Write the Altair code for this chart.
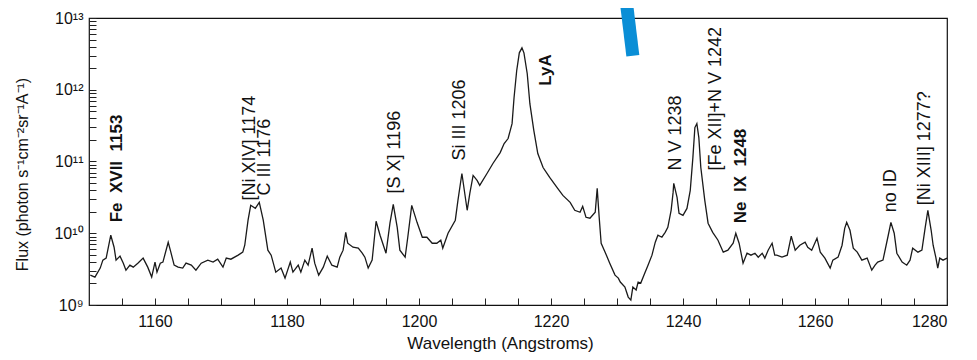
import altair as alt
import pandas as pd

# ---- spectrum (wavelength in Angstrom, flux in photon s^-1 cm^-2 sr^-1 A^-1) ----
seg_1150_1183 = [
    (1150.2, 2.61e9), (1150.9, 2.45e9), (1151.7, 3.27e9), (1152.1, 4.22e9), (1152.6, 4.50e9),
    (1153.3, 9.38e9), (1153.8, 6.39e9), (1154.1, 4.22e9), (1154.7, 4.80e9), (1155.2, 3.83e9),
    (1155.6, 3.06e9), (1156.2, 3.59e9), (1156.7, 3.37e9), (1157.4, 3.83e9), (1158.2, 4.50e9),
    (1158.9, 3.37e9), (1159.5, 2.45e9), (1160.0, 3.96e9), (1160.3, 2.87e9), (1160.8, 3.83e9),
    (1161.2, 3.96e9), (1162.0, 7.50e9), (1162.4, 5.45e9), (1162.9, 3.59e9), (1163.5, 3.37e9),
    (1164.2, 3.27e9), (1164.7, 3.83e9), (1165.5, 3.59e9), (1166.2, 3.06e9), (1167.0, 3.83e9),
    (1168.0, 4.22e9), (1168.8, 3.96e9), (1169.5, 4.35e9), (1170.3, 3.37e9), (1170.8, 4.50e9),
    (1171.5, 4.35e9), (1172.6, 4.95e9), (1173.3, 5.45e9), (1173.6, 6.81e9), (1174.1, 1.52e10),
    (1174.5, 2.45e10), (1175.2, 2.22e10), (1175.8, 2.70e10), (1176.4, 1.52e10), (1177.1, 5.81e9),
    (1177.6, 4.95e9), (1178.3, 2.87e9), (1179.1, 3.27e9), (1179.7, 2.37e9), (1180.5, 3.96e9),
    (1180.9, 2.87e9), (1181.7, 3.59e9), (1182.1, 2.87e9), (1182.7, 4.22e9),
]
seg_1183_1210 = [
    (1183.2, 3.59e9), (1183.8, 6.19e9), (1184.2, 3.83e9), (1184.8, 2.61e9), (1185.5, 3.37e9),
    (1186.1, 4.80e9), (1186.8, 3.59e9), (1187.6, 3.37e9), (1188.0, 4.64e9), (1188.5, 5.81e9),
    (1188.9, 1.03e10), (1189.2, 7.26e9), (1190.0, 6.39e9), (1190.8, 6.19e9), (1191.4, 5.27e9),
    (1191.8, 4.64e9), (1192.3, 3.27e9), (1192.9, 4.22e9), (1193.5, 1.47e10), (1194.1, 9.38e9),
    (1195.0, 5.27e9), (1195.6, 1.38e10), (1196.1, 2.53e10), (1196.7, 1.21e10), (1197.1, 5.81e9),
    (1197.9, 4.64e9), (1198.3, 8.80e9), (1198.9, 2.45e10), (1199.7, 1.42e10), (1200.5, 8.80e9),
    (1201.2, 8.80e9), (1202.0, 7.26e9), (1202.7, 7.26e9), (1203.3, 8.00e9), (1203.6, 6.19e9),
    (1204.4, 1.00e10), (1205.5, 1.52e10), (1205.9, 2.87e10), (1206.5, 6.81e10), (1207.3, 2.09e10),
    (1207.7, 3.59e10), (1208.2, 6.39e10), (1208.8, 5.45e10), (1209.2, 4.64e10),
]
seg_1210_1234 = [
    (1210.3, 6.81e10), (1211.2, 9.38e10), (1212.3, 1.33e11), (1212.9, 1.78e11), (1213.5, 2.09e11),
    (1214.1, 3.37e11), (1214.4, 7.74e11), (1214.8, 1.84e12), (1215.2, 3.27e12), (1215.6, 3.83e12),
    (1215.9, 3.27e12), (1216.4, 1.67e12), (1216.8, 6.39e11), (1217.4, 2.70e11), (1218.0, 1.29e11),
    (1218.8, 8.25e10), (1219.8, 6.00e10), (1220.9, 4.35e10), (1221.8, 3.37e10), (1222.9, 2.70e10),
    (1223.6, 2.09e10), (1224.4, 1.96e10), (1224.8, 2.37e10), (1225.3, 1.67e10), (1225.9, 1.62e10),
    (1226.7, 1.96e10), (1227.0, 4.22e10), (1227.3, 1.67e10), (1227.6, 7.26e9), (1228.2, 5.45e9),
    (1228.9, 3.83e9), (1229.7, 2.61e9), (1230.2, 2.37e9), (1230.5, 2.09e9), (1231.2, 1.78e9),
    (1231.7, 1.29e9), (1232.1, 1.17e9), (1232.4, 1.78e9), (1232.9, 1.62e9), (1233.2, 2.09e9),
    (1233.6, 2.02e9),
]
seg_1234_1253 = [
    (1234.2, 2.78e9), (1234.7, 3.59e9), (1235.3, 4.95e9), (1235.8, 7.50e9), (1236.2, 9.38e9),
    (1236.8, 8.80e9), (1237.3, 1.03e10), (1237.7, 1.21e10), (1238.2, 2.09e10), (1238.5, 3.71e10),
    (1238.6, 4.95e10), (1239.1, 3.16e10), (1239.4, 1.90e10), (1240.0, 1.78e10), (1240.6, 2.22e10),
    (1241.1, 3.96e10), (1241.5, 1.14e11), (1241.8, 2.97e11), (1242.1, 3.37e11), (1242.4, 2.15e11),
    (1242.7, 8.25e10), (1243.3, 2.87e10), (1243.8, 1.38e10), (1244.5, 1.03e10), (1245.3, 8.00e9),
    (1246.1, 5.45e9), (1246.8, 5.81e9), (1247.6, 7.26e9), (1248.0, 1.00e10), (1248.5, 7.26e9),
    (1249.1, 3.83e9), (1249.7, 5.27e9), (1250.3, 4.95e9), (1250.9, 5.27e9), (1251.4, 4.64e9),
    (1252.0, 5.27e9), (1252.4, 4.50e9), (1252.9, 5.81e9),
]
seg_1253_1280 = [
    (1253.5, 7.26e9), (1253.9, 4.95e9), (1254.2, 4.95e9), (1255.0, 4.64e9), (1255.8, 4.95e9),
    (1256.4, 9.09e9), (1257.0, 5.81e9), (1257.7, 6.81e9), (1258.5, 7.50e9), (1258.9, 6.39e9),
    (1259.5, 5.81e9), (1260.3, 8.53e9), (1260.8, 5.45e9), (1261.5, 4.50e9), (1262.3, 3.27e9),
    (1262.7, 4.22e9), (1263.5, 4.64e9), (1264.1, 6.81e9), (1264.5, 1.17e10), (1264.8, 1.42e10),
    (1265.3, 1.10e10), (1265.8, 6.19e9), (1266.4, 5.45e9), (1267.1, 4.22e9), (1267.9, 4.50e9),
    (1268.6, 3.06e9), (1269.1, 3.59e9), (1269.5, 3.96e9), (1270.3, 4.22e9), (1271.1, 9.38e9),
    (1271.5, 1.42e10), (1272.0, 1.00e10), (1272.4, 5.27e9), (1273.2, 3.96e9), (1273.9, 3.59e9),
    (1274.4, 4.22e9), (1274.8, 6.19e9), (1275.6, 5.45e9), (1276.2, 5.81e9), (1276.7, 1.21e10),
    (1277.1, 2.09e10), (1277.6, 1.10e10), (1277.9, 6.81e9), (1278.3, 4.64e9), (1278.6, 3.27e9),
    (1278.9, 4.50e9), (1279.4, 4.22e9), (1280.0, 4.50e9),
]

# ---- line identifications (text, wavelength anchor, flux anchor at text start) ----
label_text = ["[Ni XIV] 1174", "C III 1176", "[S X] 1196", "Si III 1206", "N V 1238",
              "[Fe XII]+N V 1242", "no ID", "[Ni XIII] 1277?"]
label_wl = [1174.4, 1176.7, 1196.4, 1206.2, 1238.9, 1245.0, 1271.5, 1276.7]
label_flux = [2.87e10, 3.37e10, 3.59e10, 1.03e11, 7.5e10, 7.5e10, 1.96e10, 2.45e10]

bold_text = ["Fe\u00a0 XVII\u00a0 1153", "LyA", "Ne\u00a0 IX\u00a0 1248"]
bold_wl = [1154.2, 1219.2, 1248.8]
bold_flux = [1.42e10, 1.14e12, 1.38e10]

# ---- axis ticks (labels only on the multiples of 20 A and on the decades) ----
x_tick_values = [1155, 1160, 1165, 1170, 1175, 1180, 1185, 1190, 1195, 1200, 1205, 1210, 1215,
                 1220, 1225, 1230, 1235, 1240, 1245, 1250, 1255, 1260, 1265, 1270, 1275, 1280]
y_tick_values = [k * 10.0 ** n for n in range(9, 13) for k in range(1, 10)] + [1e13]

# blue overlay stroke (from the scanned figure)
marker_wl = [1231.4, 1232.4]
marker_flux = [1.72e13, 2.97e12]

WL0, WL1 = 1150.0, 1280.0
F0, F1 = 1e9, 1e13
W, H = 858, 287
FONT = "Liberation Sans"

spec = pd.DataFrame(seg_1150_1183 + seg_1183_1210 + seg_1210_1234 + seg_1234_1253 + seg_1253_1280,
                    columns=["wl", "flux"])

DECADE = "abs(log(datum.value)/LN10 - round(log(datum.value)/LN10)) < 0.01"
SUP = "['\u2079','\u00b9\u2070','\u00b9\u00b9','\u00b9\u00b2','\u00b9\u00b3']"

X = alt.X("wl:Q",
          scale=alt.Scale(domain=[WL0, WL1], nice=False, zero=False),
          axis=alt.Axis(values=x_tick_values, title="Wavelength (Angstroms)",
                        labelExpr="datum.value % 20 == 0 ? datum.label : ''", format="d",
                        grid=False, domain=False,
                        ticks=True, tickSize={"expr": "-7"}, tickColor="#222", tickWidth=1,
                        labelFont=FONT, labelFontSize=16, labelColor="#111",
                        titleFont=FONT, titleFontSize=17, titleFontWeight="normal", titleColor="#111",
                        labelPadding=15, titlePadding=6, titleX=411))
Y = alt.Y("flux:Q",
          scale=alt.Scale(type="log", domain=[F0, F1], nice=False),
          axis=alt.Axis(values=y_tick_values,
                        title="Flux (photon s\u207b\u00b9cm\u207b\u00b2sr\u207b\u00b9A\u207b\u00b9)",
                        labelExpr=DECADE + " ? '10' + " + SUP + "[round(log(datum.value)/LN10) - 9] : ''",
                        grid=False, domain=False,
                        ticks=True, tickSize={"expr": "-7"}, tickColor="#222", tickWidth=1,
                        labelFont=FONT, labelFontSize=16, labelColor="#111",
                        titleFont=FONT, titleFontSize=16, titleFontWeight="normal", titleColor="#111",
                        labelPadding=13, titleX=-59, titleY=156))

line = alt.Chart(spec).mark_line(color="#1a1a1a", strokeWidth=1.3).encode(x=X, y=Y)

labels_df = pd.DataFrame({"wl": label_wl, "flux": label_flux, "text": label_text})
bold_df = pd.DataFrame({"wl": bold_wl, "flux": bold_flux, "text": bold_text})

labels = alt.Chart(labels_df).mark_text(angle=270, align="left", baseline="middle",
                                        font=FONT, fontSize=18, color="#111").encode(
    x=X, y=Y, text="text:N")
bold = alt.Chart(bold_df).mark_text(angle=270, align="left", baseline="middle",
                                    font=FONT, fontSize=17, fontWeight="bold", color="#111").encode(
    x=X, y=Y, text="text:N")

marker_df = pd.DataFrame({"wl": [marker_wl[0]], "flux": [marker_flux[0]],
                          "wl2": [marker_wl[1]], "flux2": [marker_flux[1]]})
marker = alt.Chart(marker_df).mark_rule(color="#0a8ed6", strokeWidth=13, strokeCap="butt").encode(
    x=X, y=Y, x2="wl2:Q", y2="flux2:Q")

chart = alt.layer(line, labels, bold, marker).properties(
    width=W, height=H,
    autosize=alt.AutoSizeParams(type="none"),
    padding={"left": 81, "top": 10, "right": 22, "bottom": 54},
    background="white",
).configure_view(stroke="#111", strokeWidth=1.2)

chart.save("out.html", embed_options={"renderer": "svg", "actions": False})
